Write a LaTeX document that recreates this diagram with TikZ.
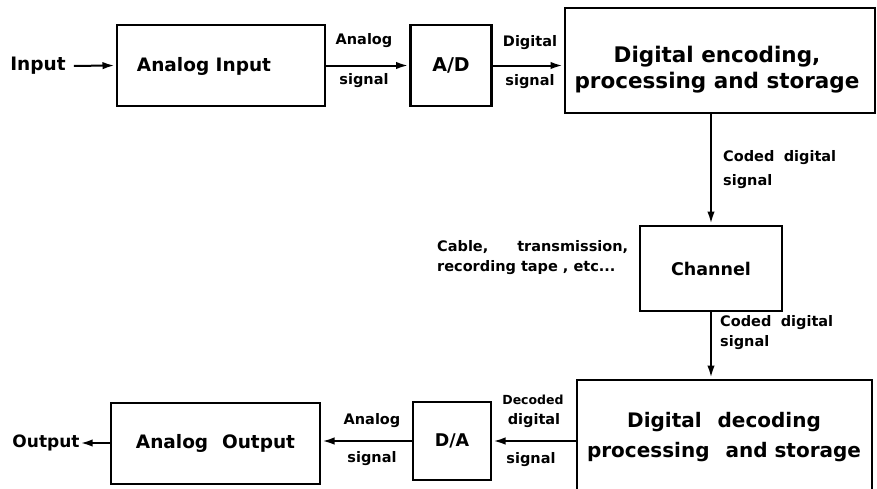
\documentclass[tikz,border=0pt]{standalone}
\usepackage{fontspec}
\setmainfont{DejaVu Sans}
\usetikzlibrary{arrows.meta}
\begin{document}
\begin{tikzpicture}[x=1pt,y=-1pt,
  box/.style={draw, line width=2.6pt, inner sep=0pt, align=center},
  conn/.style={line width=2pt, -{Latex[length=12pt,width=7.5pt]}, shorten >=1.2pt},
  lbl/.style={font=\fontsize{14.5}{17}\selectfont\bfseries, inner sep=0pt},
  fs/.style={font=\fontsize{#1}{26}\selectfont\bfseries}
]
\useasboundingbox (0,0) rectangle (877,488);
\clip (0,0) rectangle (877,488);

% boxes
\node[box, minimum width=208pt, minimum height=81pt] (ain) at (221,65.5) {};
\node[fs=18.5, inner sep=0pt] (aintext) at (204,66) {Analog Input};
\node[box, minimum width=81pt, minimum height=81pt, fs=19] (ad) at (451,65.5) {A/D};
\node[box, minimum width=310pt, minimum height=105pt] (enc) at (720,60.5) {};
\node[fs=21.5, inner sep=0pt, align=center] (enctext) at (717,70) {Digital encoding,\\processing and storage};
\node[box, minimum width=295pt, minimum height=124pt] (dec) at (724.5,442) {};
\node[fs=20, inner sep=0pt, align=center] (dectext) at (724,437) {Digital\hspace{0.45em} decoding\\[4pt]processing\hspace{0.45em} and storage};
\node[box, minimum width=142pt, minimum height=85pt, fs=17.5] (ch) at (711,268.5) {Channel};
\node[box, minimum width=78pt, minimum height=78pt, fs=17.5] (da) at (452,441) {D/A};
\node[box, minimum width=209pt, minimum height=81pt, fs=18.5] (aout) at (215.5,443.5) {Analog\hspace{0.4em} Output};

% free texts
\node[fs=18.5, inner sep=0pt] (in) at (38,66) {Input};
\node[fs=17, inner sep=0pt] (out) at (46,443) {Output};

% labels
\node[lbl] (l1) at (364,41) {Analog};
\node[lbl] (l2) at (364,81) {signal};
\node[lbl] (l3) at (530,43) {Digital};
\node[lbl] (l4) at (530,82) {signal};
\node[lbl, anchor=west] (l5) at (723,158) {Coded\hspace{0.3em} digital};
\node[lbl, anchor=west] (l6) at (723,182) {signal};
\node[lbl, anchor=west] (l7) at (720,323) {Coded\hspace{0.3em} digital};
\node[lbl, anchor=west] (l8) at (720,343) {signal};
\node[lbl, font=\fontsize{12.5}{14}\selectfont\bfseries] (l9) at (533,400) {Decoded};
\node[lbl] (l10) at (534,421) {digital};
\node[lbl] (l11) at (531,460) {signal};
\node[lbl] (l12) at (372,421) {Analog};
\node[lbl] (l13) at (372,459) {signal};
\node[lbl, anchor=west] (l14) at (437,247) {\makebox[191pt][s]{Cable, transmission,}};
\node[lbl, anchor=west] (l15) at (437,268) {recording tape , etc...};

% connectors
\draw[conn, shorten <=8pt] (in.east) -- (ain.west);
\draw[conn] (ain.east) -- (ad.west);
\draw[conn] (ad.east) -- (ad.east -| enc.west);
\draw[conn] (enc.south -| ch.north) -- (ch.north);
\draw[conn] (ch.south) -- (ch.south |- dec.north);
\draw[conn] (dec.west |- da.east) -- (da.east);
\draw[conn] (da.west) -- (da.west -| aout.east);
\draw[conn, shorten >=1pt] (aout.west |- out.east) -- (out.east);
\end{tikzpicture}
\end{document}
